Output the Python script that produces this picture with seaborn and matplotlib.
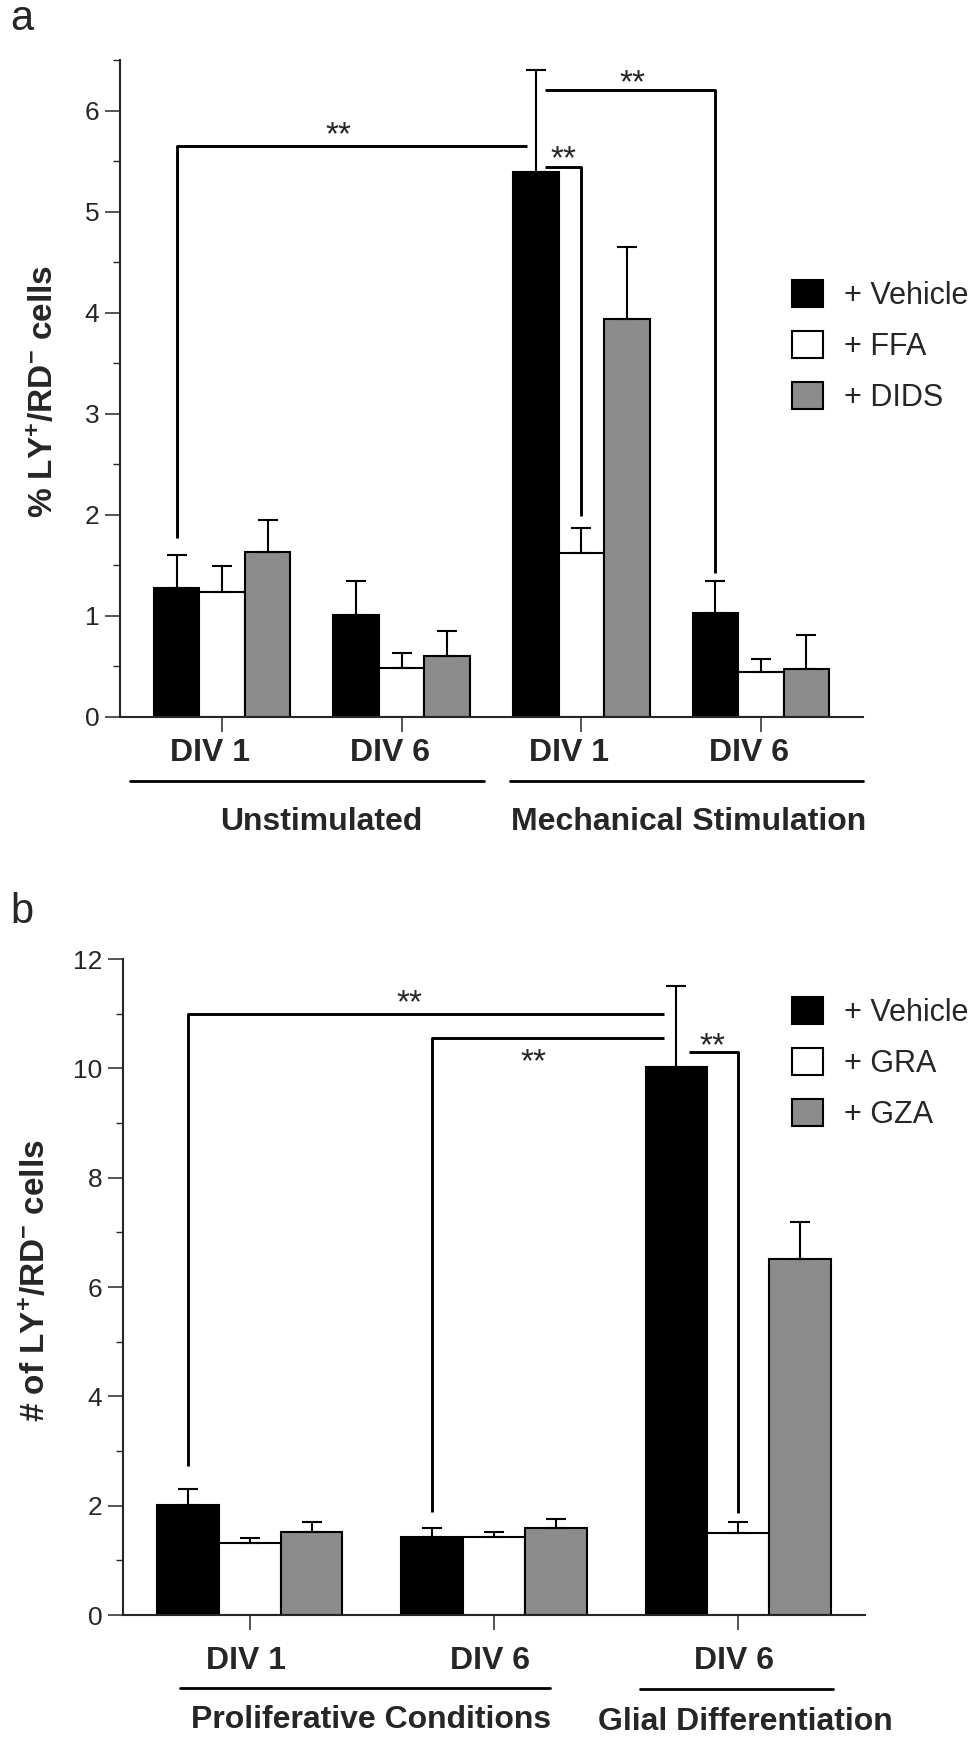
import pandas as pd
import seaborn as sns
import matplotlib.pyplot as plt
from matplotlib.lines import Line2D
from matplotlib.ticker import MultipleLocator
from matplotlib.transforms import ScaledTranslation

sns.set_style("ticks")
plt.rcParams['font.family'] = ['Liberation Sans', 'DejaVu Sans']
plt.rcParams['mathtext.fontset'] = 'custom'
plt.rcParams['mathtext.rm'] = 'Liberation Sans:bold'
plt.rcParams['mathtext.it'] = 'Liberation Sans:bold'
plt.rcParams['mathtext.bf'] = 'Liberation Sans:bold'

colors = ["black", "white", "#8c8c8c"]

# ---- panel a data
groups_a = ["Unstim DIV 1", "Unstim DIV 6", "Mech DIV 1", "Mech DIV 6"]
ticks_a = ["DIV 1", "DIV 6", "DIV 1", "DIV 6"]
treat_a = ["+ Vehicle", "+ FFA", "+ DIDS"]
vehicle_a = [1.28, 1.01, 5.39, 1.03]
ffa_a = [1.24, 0.48, 1.62, 0.45]
dids_a = [1.63, 0.60, 3.94, 0.47]
vehicle_a_err = [0.32, 0.34, 1.01, 0.32]
ffa_a_err = [0.25, 0.15, 0.25, 0.12]
dids_a_err = [0.32, 0.25, 0.71, 0.34]
# brackets: (start group, start hue, end group, end hue, low y start, top y, low y end)
brackets_a = [(0, 0, 2, 0, 1.77, 5.65, None),
              (2, 0, 2, 1, None, 5.44, 1.99),
              (2, 0, 3, 0, None, 6.20, 1.42)]

# ---- panel b data
groups_b = ["Prolif DIV 1", "Prolif DIV 6", "Glial DIV 6"]
ticks_b = ["DIV 1", "DIV 6", "DIV 6"]
treat_b = ["+ Vehicle", "+ GRA", "+ GZA"]
vehicle_b = [2.02, 1.43, 10.02]
gra_b = [1.32, 1.43, 1.50]
gza_b = [1.52, 1.59, 6.51]
vehicle_b_err = [0.28, 0.16, 1.48]
gra_b_err = [0.09, 0.09, 0.20]
gza_b_err = [0.18, 0.16, 0.67]
brackets_b = [(0, 0, 2, 0, 2.72, 11.0, None),
              (1, 0, 2, 0, 1.88, 10.55, None),
              (2, 0, 2, 1, None, 10.29, 1.86)]


def make_df(groups, treats, series):
    rows = []
    for t, vals in zip(treats, series):
        for g, v in zip(groups, vals):
            rows.append({"group": g, "treatment": t, "value": v})
    return pd.DataFrame(rows)


def px(x):
    return x / 975


def py(y):
    return 1 - y / 1751


fig = plt.figure(figsize=(9.75, 17.51), dpi=100)


def draw_panel(ax, groups, ticks, treats, series, errs, brackets, star_pos,
               ylim, major, minor, ylabel, label_xy, tick_dx, tick_pad, legend_top):
    df = make_df(groups, treats, series)
    sns.barplot(data=df, x="group", y="value", hue="treatment", order=groups,
                hue_order=treats, palette=colors, saturation=1, width=0.76,
                edgecolor="black", linewidth=1.5, errorbar=None, legend=False, ax=ax)
    bars = list(ax.containers)
    centers = [[b.get_x() + b.get_width() / 2 for b in c] for c in bars]
    for c, err in zip(bars, errs):
        for b, e in zip(c, err):
            ax.errorbar(b.get_x() + b.get_width() / 2, b.get_height(), yerr=[[0], [e]],
                        fmt="none", ecolor="black", elinewidth=1.5, capsize=7,
                        capthick=1.5, zorder=1)
    # significance brackets
    for (g0, h0, g1, h1, y0, ytop, y1), (sx, sy) in zip(brackets, star_pos):
        x0 = centers[h0][g0]
        x1 = centers[h1][g1]
        xs, ys = [], []
        if y0 is not None:
            xs += [x0, x0]
            ys += [y0, ytop]
        else:
            xs += [x0 + 0.05]
            ys += [ytop]
        if y1 is not None:
            xs += [x1, x1]
            ys += [ytop, y1]
        else:
            xs += [x1 - 0.05]
            ys += [ytop]
        ax.plot(xs, ys, color="black", lw=2.1, solid_capstyle="butt", clip_on=False)
        ax.text(sx, sy, "**", fontsize=24, ha="center", va="center")

    ax.set_ylim(*ylim)
    ax.yaxis.set_major_locator(MultipleLocator(major))
    ax.yaxis.set_minor_locator(MultipleLocator(minor))
    ax.tick_params(axis="y", which="major", length=11, width=1.1, labelsize=19, pad=4)
    ax.tick_params(axis="y", which="minor", length=5, width=1.0)
    ax.tick_params(axis="x", length=11, width=1.1, pad=tick_pad)
    ax.set_xticks(range(len(groups)))
    ax.set_xticklabels(ticks, fontsize=23, fontweight="bold")
    for lab in ax.get_xticklabels():
        lab.set_transform(lab.get_transform() + ScaledTranslation(tick_dx, 0, fig.dpi_scale_trans))
    ax.set_xlabel("")
    ax.set_ylabel(ylabel, fontsize=24, fontweight="bold")
    ax.yaxis.set_label_coords(*label_xy)
    sns.despine(ax=ax)
    for s in ["left", "bottom"]:
        ax.spines[s].set_linewidth(1.5)
    ax.legend(bars, treats, loc="upper left", bbox_to_anchor=(px(792), py(legend_top)),
              bbox_transform=fig.transFigure, frameon=False, fontsize=22,
              handlelength=1.0, handleheight=1.0, handletextpad=0.7,
              labelspacing=0.65, borderpad=0, borderaxespad=0)


ax_a = fig.add_axes([px(120), py(717), px(863) - px(120), py(60) - py(717)])
draw_panel(ax_a, groups_a, ticks_a, treat_a, [vehicle_a, ffa_a, dids_a],
           [vehicle_a_err, ffa_a_err, dids_a_err], brackets_a,
           [(0.647, 5.75), (1.90, 5.51), (2.286, 6.26)],
           (0, 6.5), 1, 0.5, "% LY$^{+}$/RD$^{-}$ cells", (-0.081, 0.495),
           -0.12, 4, 280)

ax_b = fig.add_axes([px(123), py(1615), px(865) - px(123), py(959) - py(1615)])
draw_panel(ax_b, groups_b, ticks_b, treat_b, [vehicle_b, gra_b, gza_b],
           [vehicle_b_err, gra_b_err, gza_b_err], brackets_b,
           [(0.655, 11.18), (1.16, 10.11), (1.895, 10.40)],
           (0, 12), 2, 1, "# of LY$^{+}$/RD$^{-}$ cells", (-0.096, 0.51),
           -0.04, 11, 997)

# group captions and underlines
captions = [("Unstimulated", 321, 830, 130, 484, 781),
            ("Mechanical Stimulation", 689, 830, 510, 863, 781),
            ("Proliferative Conditions", 371, 1728, 180, 550, 1688),
            ("Glial Differentiation", 745, 1730, 640, 833, 1689)]
for text, cx, cy, x0, x1, ly in captions:
    fig.text(px(cx), py(cy), text, fontsize=23, fontweight="bold", ha="center", va="baseline")
    fig.add_artist(Line2D([px(x0), px(x1)], [py(ly), py(ly)], color="black", lw=2))

fig.text(px(10), py(30), "a", fontsize=30, ha="left", va="baseline")
fig.text(px(10), py(923), "b", fontsize=30, ha="left", va="baseline")

fig.savefig("out.png", dpi=100)
